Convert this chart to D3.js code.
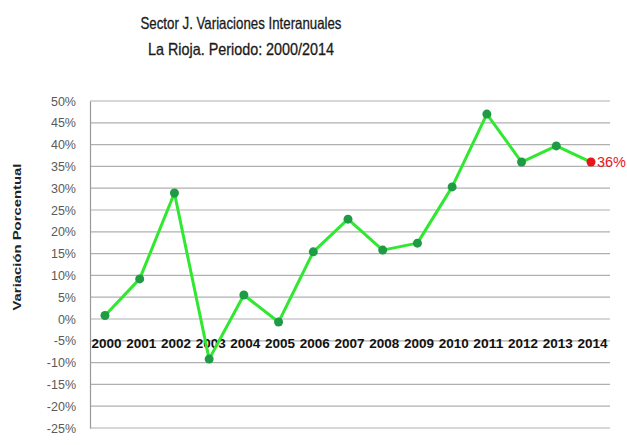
<!DOCTYPE html>
<html><head><meta charset="utf-8">
<script src="https://cdn.jsdelivr.net/npm/d3@7"></script>
<style>body{margin:0;background:#fff}svg{display:block}</style>
</head><body>
<svg id="c" width="627" height="445"></svg>
<script>
const years = ["2000","2001","2002","2003","2004","2005","2006","2007","2008","2009","2010","2011","2012","2013","2014"];
const values = [0.8, 9.2, 28.9, -9.2, 5.5, -0.7, 15.4, 22.9, 15.8, 17.4, 30.3, 47.0, 36.0, 39.7, 36.0];
const yTicks = [50,45,40,35,30,25,20,15,10,5,0,-5,-10,-15,-20,-25];
const titleLines = ["Sector J. Variaciones Interanuales", "La Rioja. Periodo: 2000/2014"];
const titleWidths = [201, 186];
const yLabel = "Variación Porcentual";

const svg = d3.select("#c");
const font = "'Liberation Sans',Arial,sans-serif";
const x = d3.scalePoint().domain(years).range([105, 591]);
const y = d3.scaleLinear().domain([-25, 50]).range([428, 101]);

// title
svg.append("g").selectAll("text").data(titleLines).join("text")
  .attr("x", 241).attr("y", (d,i)=>29 + i*26)
  .attr("text-anchor","middle").attr("font-family",font)
  .attr("font-size",16.5).attr("fill","#1a1a1a").attr("stroke","#1a1a1a").attr("stroke-width",0.3)
  .attr("textLength",(d,i)=>titleWidths[i]).attr("lengthAdjust","spacingAndGlyphs")
  .text(d=>d);

// gridlines
svg.append("g").selectAll("line").data(yTicks).join("line")
  .attr("x1",90).attr("x2",610).attr("y1",d=>y(d)).attr("y2",d=>y(d))
  .attr("stroke","#b0b0b0").attr("stroke-width",1.2);

// y axis
const yAxis = d3.axisLeft(y).tickValues(yTicks).tickSize(0).tickPadding(14).tickFormat(d=>d+"%");
const ga = svg.append("g").attr("transform","translate(90,0)").call(yAxis);
ga.select(".domain").attr("stroke","#999").attr("stroke-width",1.2);
ga.selectAll("text").attr("font-family",font).attr("font-size",12.5).attr("fill","#5a5a5a");

// y label
svg.append("text").attr("transform","translate(21,237) rotate(-90)")
  .attr("text-anchor","middle").attr("font-family",font)
  .attr("font-weight","bold").attr("font-size",11).attr("fill","#222")
  .attr("textLength",147).attr("lengthAdjust","spacingAndGlyphs").text(yLabel);

// x labels
const xAxis = d3.axisBottom(x).tickSize(0).tickPadding(0);
const gx = svg.append("g").attr("transform","translate(1,339)").call(xAxis);
gx.select(".domain").remove();
gx.selectAll("text").attr("font-family",font).attr("font-weight","bold").attr("font-size",13).attr("fill","#111")
  .attr("textLength",30).attr("lengthAdjust","spacingAndGlyphs");

// line
const line = d3.line().x((d,i)=>x(years[i])).y(d=>y(d));
svg.append("path").datum(values).attr("d",line)
  .attr("fill","none").attr("stroke","#2fe82f").attr("stroke-width",3).attr("stroke-linejoin","round");

// points
svg.append("g").selectAll("circle").data(values).join("circle")
  .attr("cx",(d,i)=>x(years[i])).attr("cy",d=>y(d)).attr("r",4.5)
  .attr("fill",(d,i)=>i===values.length-1?"#e8141c":"#1f9a45");

// last label
const li = values.length-1;
svg.append("text").attr("x",x(years[li])+6).attr("y",y(values[li])+5)
  .attr("font-family",font).attr("font-size",14).attr("fill","#e8141c")
  .attr("textLength",29).attr("lengthAdjust","spacingAndGlyphs")
  .text(Math.round(values[li])+"%");
</script>
</body></html>
